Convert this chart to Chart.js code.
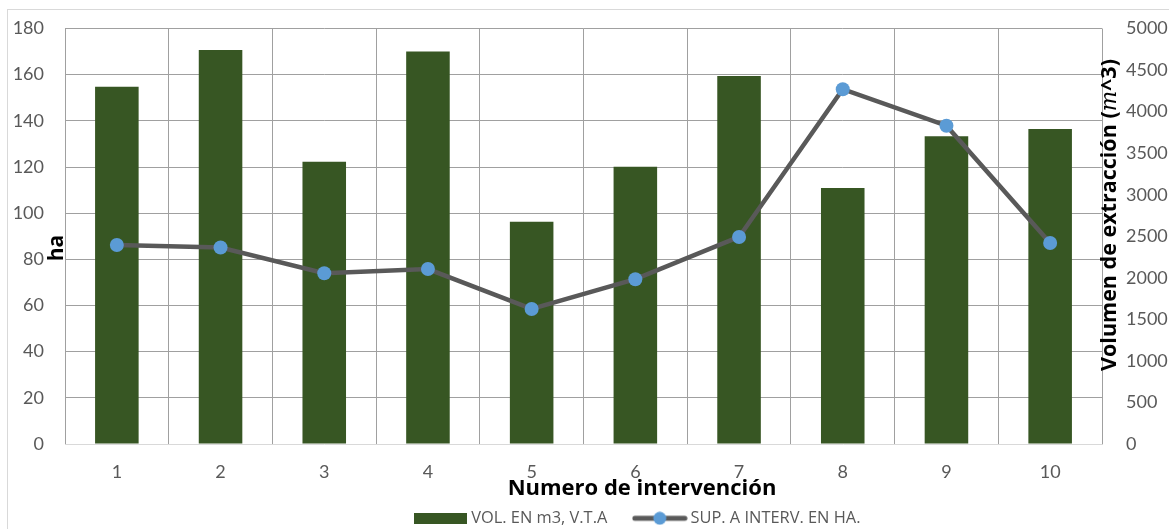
<!DOCTYPE html>
<html>
<head>
<meta charset="utf-8">
<script src="https://cdn.jsdelivr.net/npm/chart.js@4.4.1/dist/chart.umd.min.js"></script>
<style>
  html, body { margin: 0; padding: 0; background: #fff; }
</style>
</head>
<body>
<canvas id="grafico" width="1169" height="529"></canvas>
<script>
// numero de intervencion
const intervenciones = ["1", "2", "3", "4", "5", "6", "7", "8", "9", "10"];
// VOL. EN m3, V.T.A (eje derecho)
const volumen = [4300, 4742, 3397, 4722, 2675, 3336, 4428, 3081, 3703, 3792];
// SUP. A INTERV. EN HA. (eje izquierdo)
const superficie = [86.2, 85.1, 74.0, 75.8, 58.5, 71.4, 89.7, 153.7, 137.9, 87.1];

const verde = "#375623";
const grisLinea = "#595959";
const azul = "#5b9bd5";
const grisTexto = "#595959";
const grisGrid = "#a0a0a0";
const nada = "rgba(0,0,0,0)";

function simboloBarra() {
  const c = document.createElement("canvas");
  c.width = 53; c.height = 11;
  const g = c.getContext("2d");
  g.fillStyle = verde;
  g.fillRect(0, 0, 53, 11);
  return c;
}

function simboloLinea() {
  const c = document.createElement("canvas");
  c.width = 56; c.height = 14;
  const g = c.getContext("2d");
  g.strokeStyle = grisLinea;
  g.lineWidth = 5;
  g.lineCap = "round";
  g.beginPath(); g.moveTo(3, 7); g.lineTo(53, 7); g.stroke();
  g.fillStyle = azul;
  g.beginPath(); g.arc(28, 7, 6.5, 0, Math.PI * 2); g.fill();
  return c;
}

const simbolos = [simboloBarra(), simboloLinea()];

// texto girado 90 grados, centrado en (cx, cy), con tramos de distinta fuente
function textoVertical(g, cx, cy, partes) {
  g.save();
  g.translate(cx, cy);
  g.rotate(-Math.PI / 2);
  g.textAlign = "left";
  g.textBaseline = "middle";
  let total = 0;
  partes.forEach(p => { g.font = p[1]; total += g.measureText(p[0]).width; });
  let x = -total / 2;
  partes.forEach(p => {
    g.font = p[1];
    g.fillText(p[0], x, 0);
    x += g.measureText(p[0]).width;
  });
  g.restore();
}

// marco exterior y titulos de ejes (en excel quedan pegados al area del grafico)
const marcoYTitulos = {
  id: "marcoYTitulos",
  beforeDraw(chart) {
    const g = chart.ctx;
    g.save();
    g.fillStyle = "#fff";
    g.fillRect(0, 0, chart.width, chart.height);
    g.strokeStyle = "#d9d9d9";
    g.lineWidth = 1;
    g.strokeRect(7.5, 9.5, 1300, 700);
    g.restore();
  },
  afterDraw(chart) {
    const a = chart.chartArea;
    const g = chart.ctx;
    g.save();
    g.fillStyle = "#000";
    g.textBaseline = "middle";
    g.textAlign = "center";
    g.font = "bold 22px 'Open Sans'";
    g.fillText("Numero de intervención", 642, a.bottom + 45);

    textoVertical(g, a.left - 8, 248, [["ha", "bold 21px 'Open Sans'"]]);
    textoVertical(g, a.right + 8, 215, [
      ["Volumen de extracción (", "bold 21.5px 'Open Sans'"],
      ["m", "italic 21.5px 'DejaVu Serif'"],
      ["^3)", "bold 21.5px 'Open Sans'"]
    ]);
    g.restore();
  }
};

new Chart(document.getElementById("grafico"), {
  data: {
    labels: intervenciones,
    datasets: [
      {
        type: "bar",
        label: "VOL. EN m3, V.T.A",
        data: volumen,
        yAxisID: "y1",
        backgroundColor: verde,
        categoryPercentage: 1,
        barPercentage: 0.42,
        order: 2
      },
      {
        type: "line",
        label: "SUP. A INTERV. EN HA.",
        data: superficie,
        yAxisID: "y",
        borderColor: grisLinea,
        borderWidth: 4.5,
        pointBackgroundColor: azul,
        pointBorderWidth: 0,
        pointRadius: 7,
        pointHoverRadius: 7,
        tension: 0,
        order: 1
      }
    ]
  },
  options: {
    responsive: false,
    animation: false,
    devicePixelRatio: 1,
    layout: { padding: { top: 28.5, left: 0, right: -109.4, bottom: -7.5 } },
    scales: {
      x: {
        grid: { color: grisGrid, drawTicks: false, offset: true },
        border: { color: "#d9d9d9" },
        ticks: { color: grisTexto, font: { size: 18, family: "Lato" }, padding: 17 },
        afterFit: s => { s.height = 36.1; }
      },
      y: {
        position: "left",
        min: 0,
        max: 180,
        ticks: { stepSize: 20, color: grisTexto, font: { size: 18, family: "Lato" }, padding: 0 },
        grid: {
          drawTicks: true,
          tickLength: 21,
          tickColor: nada,
          color: c => (c.tick && c.tick.value === 0 ? nada : grisGrid)
        },
        border: { display: false },
        afterFit: s => { s.width = 65; }
      },
      y1: {
        position: "right",
        min: 0,
        max: 5000,
        ticks: {
          stepSize: 500,
          color: grisTexto,
          font: { size: 18, family: "Lato" },
          padding: 0,
          callback: v => String(v)
        },
        grid: { color: nada, drawTicks: true, tickLength: 24, tickColor: nada },
        border: { display: false },
        afterFit: s => { s.width = 176.4; }
      }
    },
    plugins: {
      tooltip: { enabled: false },
      legend: {
        position: "bottom",
        labels: {
          usePointStyle: true,
          pointStyleWidth: 45,
          padding: 30,
          color: grisTexto,
          font: { size: 16.4, family: "Open Sans" },
          sort: (a, b) => a.datasetIndex - b.datasetIndex,
          generateLabels: chart => {
            const items = Chart.defaults.plugins.legend.labels.generateLabels(chart);
            items.forEach(it => { it.pointStyle = simbolos[it.datasetIndex]; });
            return items;
          }
        }
      }
    }
  },
  plugins: [marcoYTitulos]
});
</script>
</body>
</html>
